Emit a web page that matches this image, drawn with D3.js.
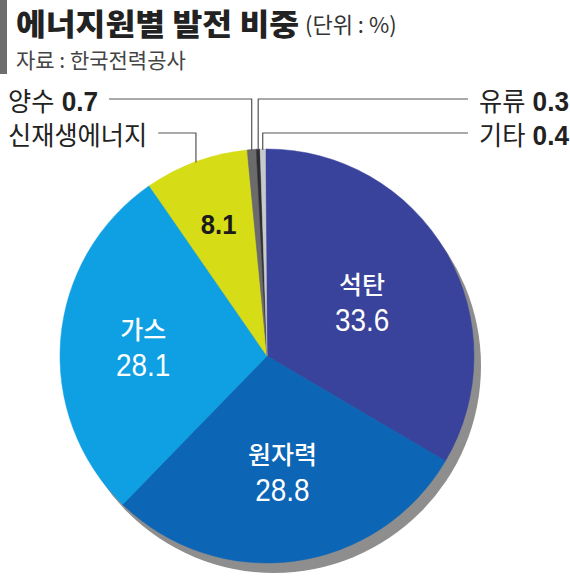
<!DOCTYPE html>
<html>
<head>
<meta charset="utf-8">
<script src="https://cdn.jsdelivr.net/npm/d3@7"></script>
<style>
  body { margin: 0; background: #fff; }
  svg { display: block; }
</style>
</head>
<body>
<script>
// data
var categories = ["석탄", "원자력", "가스", "신재생에너지", "양수", "유류", "기타"];
var values = [33.6, 28.8, 28.1, 8.1, 0.7, 0.3, 0.4];
var colors = ["#39439b", "#0d65b5", "#0ea0e2", "#d6dc16", "#6b6b6d", "#2e2e30", "#c9cacf"];

var width = 570, height = 576;
var cx = 267, cy = 356, radius = 207;
var KR = "'Noto Sans CJK KR', 'Noto Sans', sans-serif";
var NUM = "'Liberation Sans', Arial, sans-serif";

var dataObj = categories.map(function(c, i) {
    return { name: c, value: values[i], color: colors[i] };
});

var svg = d3.select("body").append("svg")
    .attr("width", width)
    .attr("height", height);

// title block
svg.append("rect")
    .attr("x", 0).attr("y", 0)
    .attr("width", 7).attr("height", 74)
    .attr("fill", "#6d6d6d");

svg.append("text")
    .attr("transform", "translate(16,35) scale(1.08,1)")
    .attr("font-family", KR)
    .attr("font-weight", 900)
    .attr("font-size", 30)
    .attr("fill", "#222")
    .text("에너지원별 발전 비중");

svg.append("text")
    .attr("x", 305).attr("y", 33)
    .attr("font-family", KR)
    .attr("font-size", 22)
    .attr("fill", "#333")
    .text("(단위 : %)");

svg.append("text")
    .attr("x", 16).attr("y", 68)
    .attr("font-family", KR)
    .attr("font-size", 21)
    .attr("fill", "#444")
    .text("자료 : 한국전력공사");

// pie
var rot = -0.008;
var pie = d3.pie()
    .sort(null)
    .startAngle(rot)
    .endAngle(2 * Math.PI + rot)
    .value(function(d) { return d.value; });

var arcs = pie(dataObj);
var arc = d3.arc().innerRadius(0).outerRadius(radius);

var g = svg.append("g").attr("transform", "translate(" + cx + "," + cy + ")");

// drop shadow
g.append("circle")
    .attr("cx", 7).attr("cy", 10)
    .attr("r", radius)
    .attr("fill", "#8e8e8e");

g.selectAll(".slice")
    .data(arcs)
    .enter().append("path")
    .attr("class", "slice")
    .attr("d", arc)
    .attr("fill", function(d) { return d.data.color; })
    .attr("stroke", function(d) { return d.data.color; })
    .attr("stroke-width", 0.5);

// labels inside the pie
var inside = { "석탄": 0.53, "원자력": 0.56, "가스": 0.6, "신재생에너지": 0.68 };

arcs.forEach(function(d) {
    var f = inside[d.data.name];
    if (!f) return;
    var c = d3.arc().innerRadius(radius * f).outerRadius(radius * f).centroid(d);
    if (d.data.name === "신재생에너지") {
        g.append("text")
            .attr("transform", "translate(" + c[0] + "," + (c[1] + 10) + ") scale(0.95,1)")
            .attr("text-anchor", "middle")
            .attr("font-family", NUM)
            .attr("font-weight", 700)
            .attr("font-size", 27)
            .attr("fill", "#1a1a1a")
            .text(d.data.value);
        return;
    }
    g.append("text")
        .attr("x", c[0]).attr("y", c[1] - 7)
        .attr("text-anchor", "middle")
        .attr("font-family", KR)
        .attr("font-weight", 500)
        .attr("font-size", 25)
        .attr("fill", "#fff")
        .text(d.data.name);
    g.append("text")
        .attr("transform", "translate(" + c[0] + "," + (c[1] + 30) + ") scale(0.9,1)")
        .attr("text-anchor", "middle")
        .attr("font-family", NUM)
        .attr("font-size", 31)
        .attr("fill", "#fff")
        .text(d.data.value.toFixed(1));
});

// outside labels with leader lines
var outside = {
    "양수": { side: "left", row: 0, showValue: true },
    "신재생에너지": { side: "left", row: 1, showValue: false },
    "유류": { side: "right", row: 0, showValue: true },
    "기타": { side: "right", row: 1, showValue: true }
};
var rowY = [99, 133];
var sx = 0.97;

arcs.forEach(function(d) {
    var o = outside[d.data.name];
    if (!o) return;
    var y = rowY[o.row];
    var x0 = o.side === "left" ? 8 : 569;
    var t = svg.append("text")
        .attr("transform", "translate(" + x0 + "," + (y + 12) + ") scale(" + sx + ",1)")
        .attr("text-anchor", o.side === "left" ? "start" : "end")
        .attr("font-family", KR)
        .attr("font-size", 26)
        .attr("fill", "#222");
    t.append("tspan").text(d.data.name);
    if (o.showValue) {
        t.append("tspan")
            .attr("font-family", NUM)
            .attr("font-weight", 700)
            .attr("font-size", 27)
            .text(" " + d.data.value.toFixed(1));
    }
    var w = t.node().getComputedTextLength() * sx;
    var mid = (d.startAngle + d.endAngle) / 2;
    var px = cx + radius * Math.sin(mid);
    var py = cy - radius * Math.cos(mid);
    var lx = o.side === "left" ? x0 + w + 11 : x0 - w - 11;
    svg.append("path")
        .attr("d", "M" + lx + "," + y + "H" + px + "V" + (py + 1))
        .attr("fill", "none")
        .attr("stroke", "#555")
        .attr("stroke-width", 1.2);
});
</script>
</body>
</html>
